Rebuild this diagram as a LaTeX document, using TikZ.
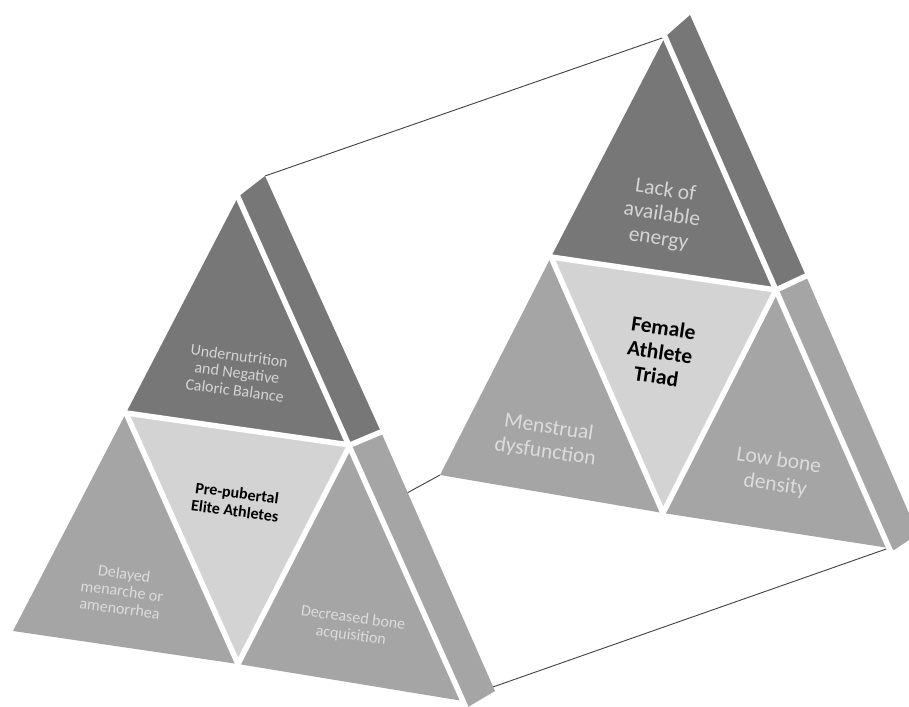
\documentclass[tikz,border=0pt]{standalone}
\usepackage{fontspec}
\usetikzlibrary{calc}
\setmainfont{Carlito}
\definecolor{dgray}{HTML}{777777}
\definecolor{mgray}{HTML}{A5A5A5}
\definecolor{lgray}{HTML}{D3D3D3}
\definecolor{txtonD}{HTML}{D4D4D4}
\definecolor{txtonM}{HTML}{DCDCDC}
\definecolor{connc}{HTML}{404040}
\tikzset{
  darkface/.style={fill=dgray},
  midface/.style={fill=mgray},
  lightface/.style={fill=lgray},
  gapline/.style={draw=white, line width=5.5pt, line cap=round},
  conn/.style={draw=connc, line width=0.9pt},
  smalltxt/.style={inner sep=0pt, align=center, font=\fontsize{16}{17.5}\selectfont, rotate=-7.5},
  bigtxt/.style={inner sep=0pt, align=center, font=\fontsize{21.5}{24.5}\selectfont, rotate=-8.5},
}
\begin{document}
\begin{tikzpicture}[x=1pt,y=-1pt]
\useasboundingbox (0,0) rectangle (909,706);
\clip (0,0) rectangle (909,706);
% ---------------- left figure coordinates
\coordinate (LA) at (238,197);
\coordinate (LBL) at (13,631);
\coordinate (LBR) at (463,701);
\coordinate (LML) at (126,413);
\coordinate (LMR) at (350,445);
\coordinate (LMB) at (238,664);
\coordinate (LS1) at (265,176);
\coordinate (LS2) at (381,432);
\coordinate (LS4) at (495,691);
\coordinate (LS5) at (468,707);
\coordinate (LC2) at (407,493);
\coordinate (LC3) at (490,688);
% ---------------- right figure coordinates
\coordinate (RA) at (665,37);
\coordinate (RBL) at (440,475);
\coordinate (RBR) at (889,548);
\coordinate (RML) at (551,257);
\coordinate (RMR) at (776,290);
\coordinate (RMB) at (663,513);
\coordinate (RS1) at (690,15);
\coordinate (RS2) at (806,276);
\coordinate (RS4) at (918,534);
\coordinate (RS5) at (894,550);
% ---------------- connectors (behind)
\draw[conn] (LS1) -- (RA);
\draw[conn] (LC2) -- (RBL);
\draw[conn] (LC3) -- (RBR);
% ---------------- left figure faces
\fill[darkface] (LA) -- (LML) -- (LMR) -- cycle;
\fill[lightface] (LML) -- (LMR) -- (LMB) -- cycle;
\fill[midface] (LML) -- (LBL) -- (LMB) -- cycle;
\fill[midface] (LMR) -- (LMB) -- (LBR) -- cycle;
\fill[darkface] (LA) -- (LS1) -- (LS2) -- (LMR) -- cycle;
\fill[midface] (LMR) -- (LS2) -- (LS4) -- (LS5) -- (LBR) -- cycle;
\draw[gapline] (LML) -- (LMR);
\draw[gapline] (LML) -- (LMB);
\draw[gapline] (LMR) -- (LMB);
\draw[gapline] ($(LA)!-0.01!(LBR)$) -- ($(LA)!1.01!(LBR)$);
\draw[gapline] (LMR) -- ($(LMR)!1.1!(LS2)$);
% ---------------- right figure faces
\fill[darkface] (RA) -- (RML) -- (RMR) -- cycle;
\fill[lightface] (RML) -- (RMR) -- (RMB) -- cycle;
\fill[midface] (RML) -- (RBL) -- (RMB) -- cycle;
\fill[midface] (RMR) -- (RMB) -- (RBR) -- cycle;
\fill[darkface] (RA) -- (RS1) -- (RS2) -- (RMR) -- cycle;
\fill[midface] (RMR) -- (RS2) -- (RS4) -- (RS5) -- (RBR) -- cycle;
\draw[gapline] (RML) -- (RMR);
\draw[gapline] (RML) -- (RMB);
\draw[gapline] (RMR) -- (RMB);
\draw[gapline] ($(RA)!-0.01!(RBR)$) -- ($(RA)!1.01!(RBR)$);
\draw[gapline] (RMR) -- ($(RMR)!1.1!(RS2)$);
% ---------------- labels
\node[smalltxt, text=txtonD] (under) at (237,373) {Undernutrition\\and Negative\\Caloric Balance};
\node[smalltxt, text=black, font=\fontsize{16}{18}\selectfont\bfseries] (prep) at (236,502) {Pre-pubertal\\Elite Athletes};
\node[smalltxt, text=txtonM] (delay) at (122,591) {Delayed\\menarche or\\amenorrhea};
\node[smalltxt, text=txtonM] (decr) at (352,627) {Decreased bone\\acquisition};
\node[bigtxt, text=txtonD] (lack) at (662,215) {Lack of\\available\\energy};
\node[bigtxt, text=black, font=\fontsize{21.5}{24.5}\selectfont\bfseries] (fat) at (660,352) {Female\\Athlete\\Triad};
\node[bigtxt, text=txtonM] (mens) at (547,440) {Menstrual\\dysfunction};
\node[bigtxt, text=txtonM] (lowb) at (777,473) {Low bone\\density};
\end{tikzpicture}
\end{document}
